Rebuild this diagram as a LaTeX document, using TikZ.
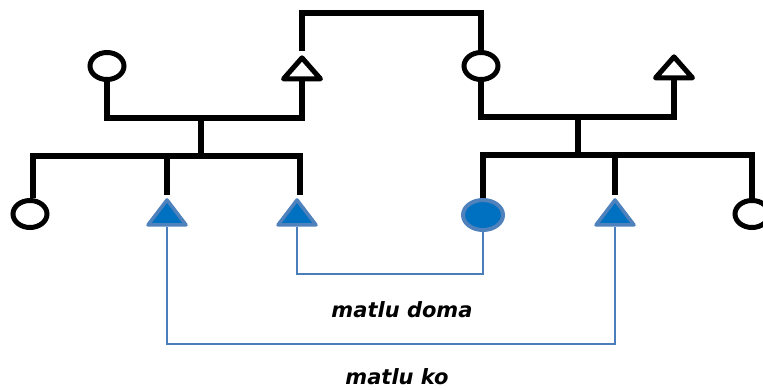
\documentclass[tikz,border=0pt]{standalone}
\usepackage{fontspec}
\setmainfont{DejaVu Sans}
\usetikzlibrary{shapes.geometric}
\definecolor{egofill}{HTML}{0070C0}
\definecolor{egoedge}{HTML}{4F81BD}
\definecolor{linkblue}{HTML}{4A7EBB}
\tikzset{
  kin/.style={line width=5.5pt, black},
  female/.style={ellipse, draw=black, line width=5pt, fill=white, inner sep=0pt,
                 minimum width=34pt, minimum height=27pt, outer sep=2.5pt},
  male/.style={isosceles triangle, shape border rotate=90, isosceles triangle stretches,
               draw=black, line width=5pt, line join=round, fill=white, inner sep=0pt,
               minimum width=37pt, minimum height=21pt, outer sep=2.5pt},
  egofemale/.style={ellipse, draw=egoedge, fill=egofill, line width=4pt, inner sep=0pt,
                    minimum width=40pt, minimum height=30pt, outer sep=2pt},
  egomale/.style={isosceles triangle, shape border rotate=90, isosceles triangle stretches,
                  draw=egoedge, fill=egofill, line width=3.5pt, line join=round, inner sep=0pt,
                  minimum width=38pt, minimum height=25pt, outer sep=1.75pt},
  link/.style={draw=linkblue, line width=1.6pt},
  term/.style={font=\fontsize{21}{24}\selectfont\bfseries\itshape, inner sep=0pt}
}
\begin{document}
\begin{tikzpicture}[x=1pt, y=-1pt]
\useasboundingbox (0,0) rectangle (763,389);

% parents' generation
\node[female] (gmL) at (107,66) {};
\node[male]   (gfL) at (302,70.5) {};
\node[female] (gmR) at (481,66) {};
\node[male]   (gfR) at (674,69.5) {};

% children
\node[female]    (c1) at (30,214) {};
\node[egomale]   (c2) at (167,215.5) {};
\node[egomale]   (c3) at (297,215.5) {};
\node[egofemale] (c4) at (483,215) {};
\node[egomale]   (c5) at (615,215.5) {};
\node[female]    (c6) at (752,214) {};

% junction points
\coordinate (top) at (390,13);
\coordinate (mL) at (201,118);
\coordinate (sL) at (201,156);
\coordinate (mR) at (578,117);
\coordinate (sR) at (578,155);
\coordinate (b1) at (390,274);
\coordinate (b2) at (390,344);

% marriage between the two families
\draw[kin] (gfL.north) |- (top) -| (gmR.north);

% left family
\draw[kin] (gmL.south) |- (mL) -| (gfL.south);
\draw[kin] (mL) -- (sL);
\draw[kin] ([xshift=3pt]c1.north) |- (sL) -| ([xshift=3pt]c3.north);
\draw[kin] (c2.north) -- (c2.north |- sL);

% right family
\draw[kin] (gmR.south) |- (mR) -| (gfR.south);
\draw[kin] (mR) -- (sR);
\draw[kin] (c4.north) |- (sR) -| (c6.north);
\draw[kin] (c5.north) -- (c5.north |- sR);

% kin-term links
\draw[link] (c3.south) |- (b1) -| (c4.south);
\draw[link] (c2.south) |- (b2) -| (c5.south);

\node[term] (doma) at (402,310) {matlu doma};
\node[term] (ko) at (397,377) {matlu ko};
\end{tikzpicture}
\end{document}
